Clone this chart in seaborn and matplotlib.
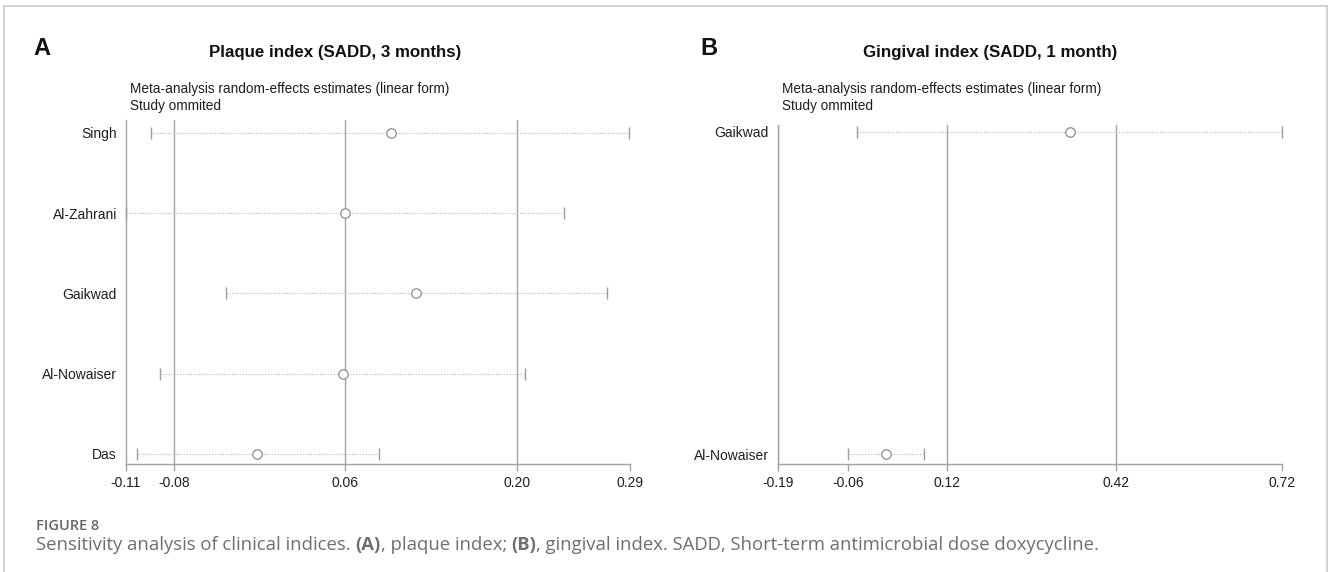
import numpy as np
import pandas as pd
import matplotlib
matplotlib.use("Agg")
import matplotlib.pyplot as plt
import seaborn as sns
from matplotlib.lines import Line2D

# ---------------- data ----------------
studies_a = ["Singh", "Al-Zahrani", "Gaikwad", "Al-Nowaiser", "Das"]
est_a = [0.100, 0.064, 0.120, 0.062, -0.006]
lo_a = [-0.090, -0.110, -0.031, -0.083, -0.101]
hi_a = [0.289, 0.238, 0.272, 0.207, 0.091]
overall_a = [-0.072, 0.064, 0.200]          # lower CI, estimate, upper CI
ticks_a = [-0.110, -0.072, 0.064, 0.200, 0.290]
ticklabels_a = ["-0.11", "-0.08", "0.06", "0.20", "0.29"]

studies_b = ["Gaikwad", "Al-Nowaiser"]
est_b = [0.337, 0.006]
lo_b = [-0.046, -0.063]
hi_b = [0.720, 0.075]
overall_b = [-0.190, 0.116, 0.421]
ticks_b = [-0.190, -0.063, 0.116, 0.421, 0.720]
ticklabels_b = ["-0.19", "-0.06", "0.12", "0.42", "0.72"]

title_a = "Plaque index (SADD, 3 months)"
title_b = "Gingival index (SADD, 1 month)"
subtitle = ["Meta-analysis random-effects estimates (linear form)", "Study ommited"]

# ---------------- style ----------------
sns.set_theme(style="white")
plt.rcParams["font.family"] = ["Liberation Sans", "DejaVu Sans"]

W, H = 1328, 572
fig = plt.figure(figsize=(W / 100, H / 100), dpi=100)


def fx(px):
    return px / W


def fy(py):
    return 1 - py / H


LINE = "#a3a3a3"
DOT = "#c4c4c4"
CIRC = "#8c8c8c"
TXT = "#1e1e1e"


def panel(ax, studies, est, lo, hi, overall, ticks, labels, pad_top, pad_bot):
    n = len(studies)
    df = pd.DataFrame({"study": studies, "est": est, "lo": lo, "hi": hi,
                       "pos": np.arange(n)})
    for v in overall:
        ax.axvline(v, color=LINE, lw=1.0, zorder=1)
    ax.hlines(df["pos"], df["lo"], df["hi"], colors=DOT, linestyles=(0, (1, 1.2)),
              lw=0.9, zorder=2)
    for col in ["lo", "hi"]:
        sns.scatterplot(data=df, x=col, y="pos", marker="|", s=70, color="#9d9d9d",
                        linewidth=1.0, ax=ax, legend=False, zorder=3, clip_on=False)
    sns.scatterplot(data=df, x="est", y="pos", marker="o", s=46, color="white",
                    edgecolor=CIRC, linewidth=0.9, ax=ax, legend=False, zorder=4,
                    clip_on=False)
    ax.set_xlim(ticks[0], ticks[-1])
    ax.set_ylim(n - 1 + pad_bot, -pad_top)
    ax.set_yticks(df["pos"])
    ax.set_yticklabels(studies)
    ax.set_xticks(ticks)
    ax.set_xticklabels(labels)
    ax.set_xlabel("")
    ax.set_ylabel("")
    for s in ["top", "right"]:
        ax.spines[s].set_visible(False)
    for s in ["left", "bottom"]:
        ax.spines[s].set_color(LINE)
        ax.spines[s].set_linewidth(1.0)
    ax.tick_params(axis="x", length=5, width=1, color=LINE, pad=3.5, labelsize=10,
                   labelcolor=TXT, bottom=True)
    ax.tick_params(axis="y", length=0, pad=6.5, labelsize=10, labelcolor=TXT)
    ax.set_facecolor("none")


ax_a = fig.add_axes([fx(126), fy(464), fx(504), (464 - 120) / H])
panel(ax_a, studies_a, est_a, lo_a, hi_a, overall_a, ticks_a, ticklabels_a,
      pad_top=0.158, pad_bot=0.125)

ax_b = fig.add_axes([fx(777.6), fy(464), fx(504.2), (464 - 125) / H])
panel(ax_b, studies_b, est_b, lo_b, hi_b, overall_b, ticks_b, ticklabels_b,
      pad_top=0.021, pad_bot=0.031)

# ---------------- frame ----------------
FR = "#c9c9c9"
TOP = 6
fig.add_artist(Line2D([fx(4), fx(1327)], [fy(TOP), fy(TOP)], color=FR, lw=1.2,
                      transform=fig.transFigure))
fig.add_artist(Line2D([fx(4), fx(4)], [fy(TOP), 0], color=FR, lw=1.2,
                      transform=fig.transFigure))
fig.add_artist(Line2D([fx(1327), fx(1327)], [fy(TOP), 0], color=FR, lw=1.2,
                      transform=fig.transFigure))

# ---------------- texts ----------------
fig.text(fx(33), fy(55), "A", fontsize=17, weight="bold", color="#111111",
         va="baseline", ha="left")
fig.text(fx(700), fy(55), "B", fontsize=17, weight="bold", color="#111111",
         va="baseline", ha="left")
fig.text(fx(335), fy(57), title_a, fontsize=12.2, weight="bold", color="#111111",
         ha="center", va="baseline")
fig.text(fx(990), fy(57), title_b, fontsize=12.2, weight="bold", color="#111111",
         ha="center", va="baseline")
for x0 in (130.5, 781.7):
    fig.text(fx(x0), fy(93), subtitle[0], fontsize=9.8, color=TXT, va="baseline")
    fig.text(fx(x0), fy(110), subtitle[1], fontsize=9.8, color=TXT, va="baseline")

# caption
CAP = "#6f6f6f"
cap_family = ["Open Sans", "DejaVu Sans"]
CAP_SIZE = 13.3
fig.text(fx(36), fy(530), "FIGURE 8", fontsize=10.5, weight="semibold", color="#666666",
         family=cap_family, va="baseline")

pieces = [("Sensitivity analysis of clinical indices. ", "normal"),
          ("(A)", "bold"),
          (", plaque index; ", "normal"),
          ("(B)", "bold"),
          (", gingival index. SADD, Short-term antimicrobial dose doxycycline.", "normal")]

fig.canvas.draw()
renderer = fig.canvas.get_renderer()


def text_width(s, weight):
    t1 = fig.text(0, 0, s + "x", fontsize=CAP_SIZE, weight=weight, family=cap_family)
    t2 = fig.text(0, 0, "x", fontsize=CAP_SIZE, weight=weight, family=cap_family)
    w = t1.get_window_extent(renderer).width - t2.get_window_extent(renderer).width
    t1.remove()
    t2.remove()
    return w


xpix = 36.0
for s, wgt in pieces:
    fig.text(fx(xpix), fy(550), s, fontsize=CAP_SIZE, weight=wgt, color=CAP,
             family=cap_family, va="baseline", ha="left")
    xpix += text_width(s, wgt)

fig.savefig("out.png", dpi=100, facecolor="white")
